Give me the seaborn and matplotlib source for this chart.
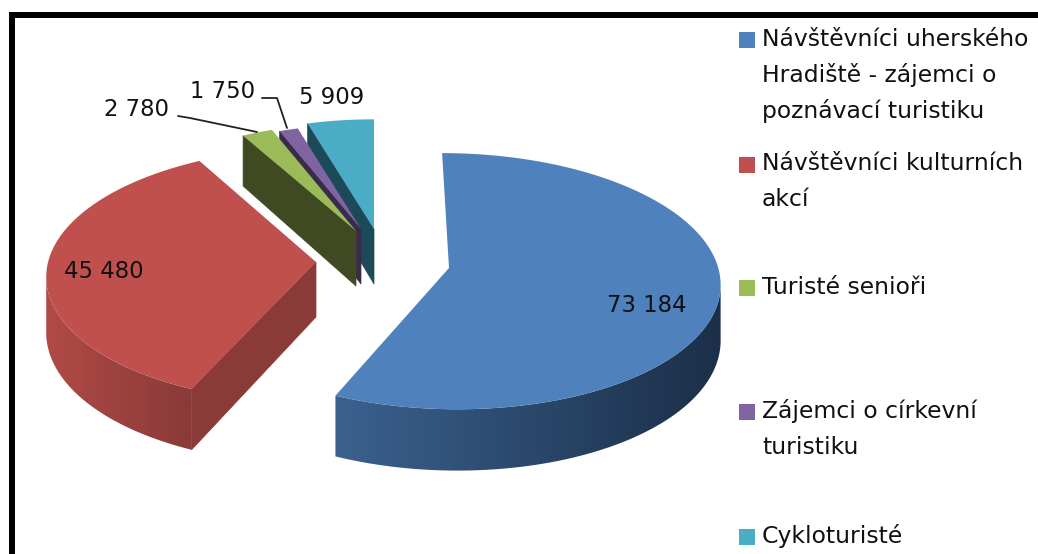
import numpy as np
import seaborn as sns
import matplotlib
matplotlib.use("Agg")
import matplotlib.pyplot as plt
from matplotlib.patches import Polygon, Rectangle

sns.set_theme(style="white")
plt.rcParams["font.family"] = ["DejaVu Sans"]

# hodnoty z grafu
values = [73184, 45480, 2780, 1750, 5909]
value_labels = ["73 184", "45 480", "2 780", "1 750", "5 909"]
legend_lines = [
    ["Návštěvníci uherského", "Hradiště - zájemci o", "poznávací turistiku"],
    ["Návštěvníci kulturních", "akcí"],
    ["Turisté senioři"],
    ["Zájemci o církevní", "turistiku"],
    ["Cykloturisté"],
]
top_colors = ["#4f81bd", "#c0504d", "#9bbb59", "#8064a2", "#4bacc6"]
wall_colors = [None, "#8a3a37", "#3f4a22", "#3a2b4c", "#1d4a58"]
side_colors = [("#3b618f", "#1b2f48"), ("#b04a46", "#8a3a38"), None, None, None]

# exploze dilku: stred, meritko, zkoseni
apex_x = [449, 316, 356, 361, 374]
apex_y = [268, 262, 231, 229, 229]
scale = [0.99, 0.985, 0.93, 0.9, 0.945]
shear = [-0.06, 0.03, 0.0, 0.0, 0.0]
# nejdriv zadni dilky
draw_order = [4, 3, 2, 1, 0]

start_angle = 90
rad_x, rad_y, persp, depth = 272, 128, 0.103, 55


def project(theta, k, sh):
    s = np.sin(np.radians(theta))
    c = np.cos(np.radians(theta))
    w = 1 + persp * s
    yy = rad_y * k * s / w
    return rad_x * k * c / w + sh * yy, yy, depth / w


fig = plt.figure(figsize=(10.38, 5.54), dpi=100)
ax = fig.add_axes([0, 0, 1, 1])
ax.axis("off")

# ramecek
ax.add_patch(Rectangle((9, 12), 1029, 6, color="black", lw=0))
ax.add_patch(Rectangle((9, 12), 6, 542, color="black", lw=0))

angles = start_angle - np.cumsum([0] + values) / sum(values) * 360

for pos, i in enumerate(draw_order):
    th0, th1 = angles[i], angles[i + 1]
    cx, cy, k, sh = apex_x[i], apex_y[i], scale[i], shear[i]
    thetas = np.linspace(th0, th1, max(int(abs(th1 - th0)), 2) * 3)
    x, y, d = project(thetas, k, sh)

    # rezna stena
    if wall_colors[i] is not None:
        ex, ey, ed = project(th0, k, sh)
        ax.fill([cx, cx + ex, cx + ex, cx],
                [cy, cy - ey, cy - ey + ed, cy + depth],
                color=wall_colors[i], lw=0.5, zorder=2 + pos * 3)

    # vnejsi plast - jen od krajniho bodu dopredu, prechod barvy zleva doprava
    if side_colors[i] is not None:
        ext = np.argmax(np.abs(x))
        part = slice(ext, None) if i == 0 else slice(0, ext + 1)
        xs, ys, ds = cx + x[part], cy - y[part], d[part]
        outline = np.column_stack([np.r_[xs, xs[::-1]], np.r_[ys, (ys + ds)[::-1]]])
        shape = Polygon(outline, closed=True, facecolor="none", lw=0, transform=ax.transData)
        ax.add_patch(shape)
        ramp = np.array(sns.blend_palette(list(side_colors[i]), 128))[None, :, :3]
        img = ax.imshow(ramp, extent=(xs.min(), xs.max(), (ys + ds).max(), ys.min()),
                        aspect="auto", zorder=3 + pos * 3)
        img.set_clip_path(shape)

    # horni plocha
    ax.fill(np.r_[cx, cx + x], np.r_[cy, cy - y], color=top_colors[i], lw=0, zorder=4 + pos * 3)

# popisky hodnot
label_pos = [(647, 305), (104, 271), (136, 109), (223, 91), (332, 97)]
for txt, (lx, ly) in zip(value_labels, label_pos):
    ax.text(lx, ly, txt, ha="center", va="center", fontsize=16.4, color="#111111", zorder=30)

# vodici cary
ax.plot([178, 190, 257], [116, 118, 132], color="#222222", lw=1.3, zorder=25)
ax.plot([262, 277, 287], [98, 98, 128], color="#222222", lw=1.3, zorder=25)

# legenda
legend_y = [39, 164, 287, 411, 536]
for color, lines, y0 in zip(top_colors, legend_lines, legend_y):
    ax.add_patch(Rectangle((739, y0 - 7), 16, 16, color=color, lw=0))
    for n, line in enumerate(lines):
        ax.text(762, y0 + n * 36, line, ha="left", va="center", fontsize=16.9, color="#111111")

ax.set_xlim(0, 1038)
ax.set_ylim(554, 0)
sns.despine(ax=ax, left=True, bottom=True)
fig.savefig("out.png", dpi=100, facecolor="white")
